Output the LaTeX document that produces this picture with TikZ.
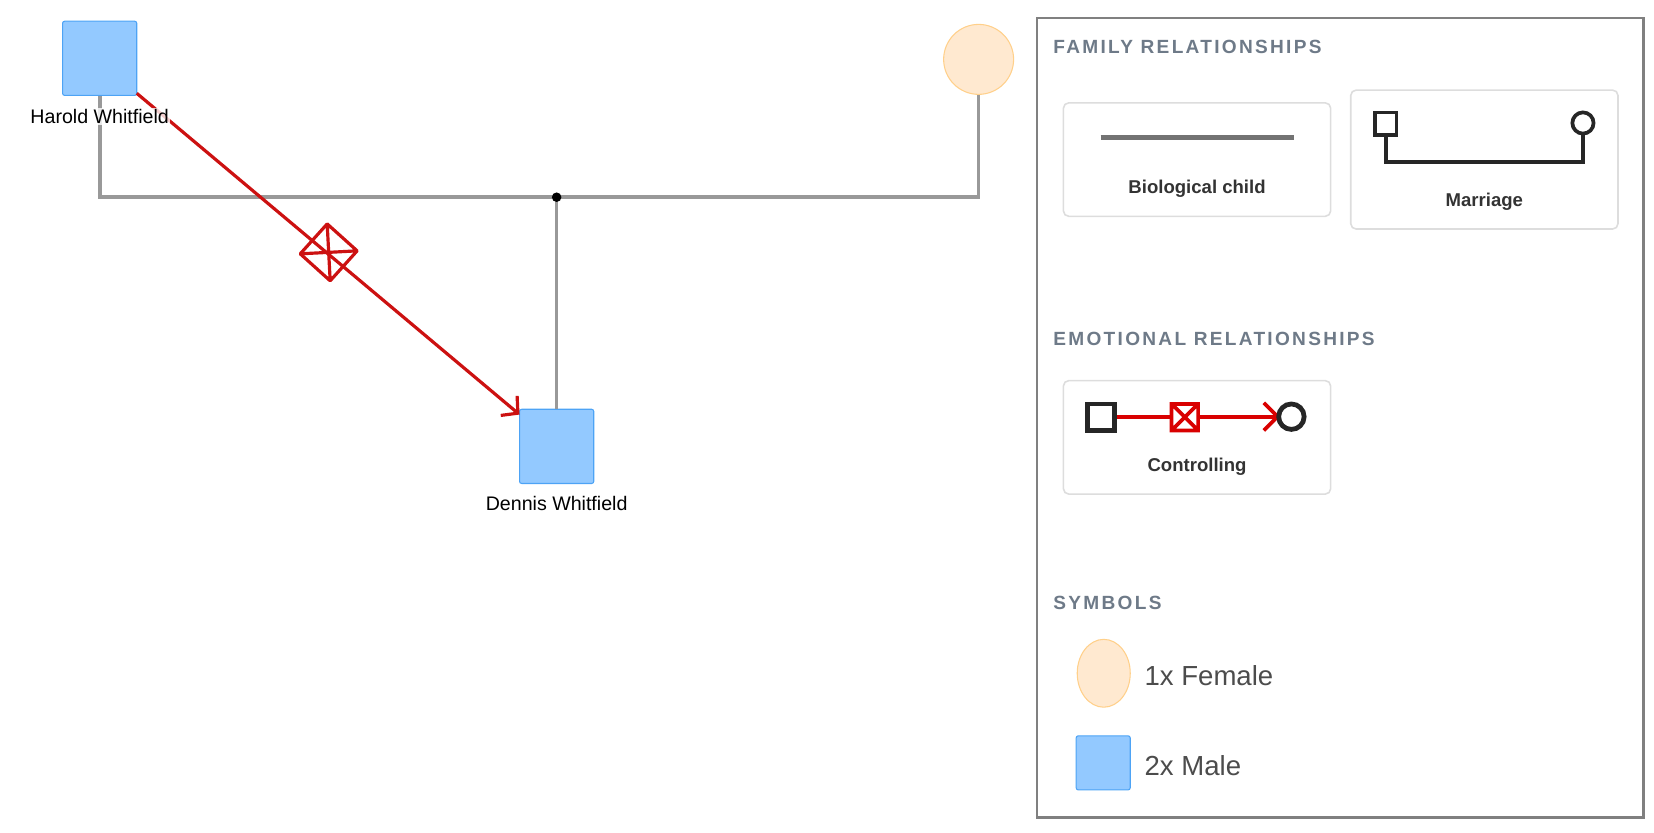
\documentclass[tikz,border=0pt]{standalone}
\usepackage{fontspec}
\setmainfont{Liberation Sans}
\usetikzlibrary{arrows.meta}
\definecolor{maleF}{HTML}{93C9FF}
\definecolor{maleD}{HTML}{4DA3F5}
\definecolor{femF}{HTML}{FFE9D0}
\definecolor{femD}{HTML}{FFD08A}
\definecolor{relC}{HTML}{999999}
\definecolor{ctrl}{HTML}{CC1111}
\definecolor{head}{HTML}{6E7A88}
\definecolor{cardC}{HTML}{DDDDDD}
\tikzset{
  x=1pt,y=-1pt,
  male/.style={draw=maleD,fill=maleF,rounded corners=2pt,minimum size=70pt,inner sep=0,line width=1pt},
  female/.style={draw=femD,fill=femF,circle,minimum size=66pt,inner sep=0,line width=1pt},
  pname/.style={font=\fontsize{18.5}{20}\selectfont,fill=white,fill opacity=0.8,text opacity=1,inner sep=1pt},
  relline/.style={draw=relC,line width=3.5pt},
  heading/.style={anchor=west,text=head,font=\fontsize{18}{20}\selectfont\bfseries\addfontfeatures{LetterSpace=12}},
  cardbox/.style={draw=cardC,rounded corners=5pt,line width=1.5pt,fill=white},
  cardtxt/.style={text=black!80,font=\fontsize{17.5}{20}\selectfont\bfseries},
  symtxt/.style={anchor=west,text=black!70,font=\fontsize{26}{30}\selectfont},
}
\begin{document}
\begin{tikzpicture}
\useasboundingbox (0,0) rectangle (1560,785);
% people
\node[male] (harold) at (94,55) {};
\node[female] (wife) at (923,56) {};
\node[male] (dennis) at (525,421) {};
\coordinate (junction) at (525,186);
\coordinate (hl) at (94,186);
\coordinate (wl) at (923,186);
\draw[relline] (harold.south) -- (hl) -- (wl) -- (wife.south);
\draw[relline] (junction) -- (dennis.north);
\fill (junction) circle (4.5);
% controlling
\coordinate (hs) at (129,88);
\coordinate (dt) at (490,391);
\draw[ctrl,line width=3pt,-{Straight Barb[length=11pt,width=24pt,line width=3pt]}] (hs) -- (dt);
\begin{scope}[shift={(310,238)},rotate=48]
  \draw[ctrl,line width=3pt,line join=round] (-19,-19) rectangle (19,19) (-19,-19) -- (19,19) (-19,19) -- (19,-19);
\end{scope}
\node[pname] (hname) at (94,110) {Harold Whitfield};
\node[pname] (dname) at (525,475) {Dennis Whitfield};
% legend
\draw[draw=black!50,line width=2.5pt] (978,17) rectangle (1550,771);
\node[heading] (h1) at (990,44) {FAMILY RELATIONSHIPS};
\node[heading] (h2) at (990,320) {EMOTIONAL RELATIONSHIPS};
\node[heading] (h3) at (990,569) {SYMBOLS};
\draw[cardbox] (1003,97) rectangle (1255,204);
\draw[draw=black!55,line width=5pt] (1038,130) -- (1220,130);
\node[cardtxt] (bc) at (1129,178) {Biological child};
\draw[cardbox] (1274,85) rectangle (1526,216);
\draw[black!85,line width=3.5pt] (1297,106) rectangle (1317,127);
\draw[black!85,line width=3.5pt] (1493,116) circle (10);
\draw[black!85,line width=3.5pt] (1307,127) -- (1307,153) -- (1493,153) -- (1493,126);
\node[cardtxt] (mar) at (1400,190) {Marriage};
\draw[cardbox] (1003,359) rectangle (1255,466);
\draw[red!85!black,line width=3.5pt] (1052,393) -- (1205,393);
\draw[red!85!black,line width=3.5pt] (1192,380) -- (1205,393) -- (1192,406);
\draw[black!85,line width=4.5pt] (1026,381) rectangle (1051,406);
\draw[black!85,line width=4.5pt] (1218,393) circle (12);
\draw[red!85!black,fill=white,line width=3.5pt] (1105,381) rectangle (1130,406) (1105,381) -- (1130,406) (1105,406) -- (1130,381);
\node[cardtxt] (ct) at (1129,440) {Controlling};
\draw[draw=femD,fill=femF,line width=1pt] (1041,635) ellipse (25 and 32);
\node[symtxt] (fs) at (1076,637) {1x Female};
\draw[draw=maleD,fill=maleF,rounded corners=2pt,line width=1pt] (1015,694) rectangle (1066,745);
\node[symtxt] (ms) at (1076,722) {2x Male};
\end{tikzpicture}
\end{document}
